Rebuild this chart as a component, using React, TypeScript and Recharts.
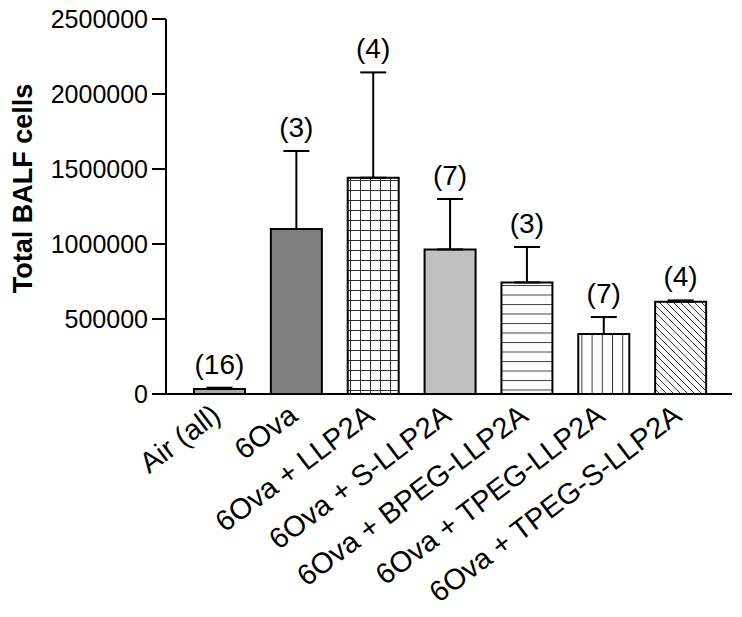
import { ComposedChart, Bar, Cell, ErrorBar, Line, LabelList, XAxis, YAxis } from "recharts";

const groups = [
  "Air (all)",
  "6Ova",
  "6Ova + LLP2A",
  "6Ova + S-LLP2A",
  "6Ova + BPEG-LLP2A",
  "6Ova + TPEG-LLP2A",
  "6Ova + TPEG-S-LLP2A",
];
const meanCells = [33000, 1100000, 1442000, 964000, 744000, 400000, 615000];
const semCells = [9000, 520000, 702000, 336000, 236000, 113000, 9000];
const nPerGroup = [16, 3, 4, 7, 3, 7, 4];
const yTicks = [0, 500000, 1000000, 1500000, 2000000, 2500000];

const fills = ["#a9a9a9", "#7f7f7f", "url(#grid)", "#c0c0c0", "url(#hlines)", "url(#vlines)", "url(#diag)"];

const rows = groups.map((g, i) => ({
  name: g,
  mean: meanCells[i],
  err: [0, semCells[i]],
  top: meanCells[i] + semCells[i],
  n: `(${nPerGroup[i]})`,
}));

const font = "'Liberation Sans', Arial, sans-serif";

function XTick({ x, y, payload }: any) {
  const px = x + 3;
  return (
    <text x={px} y={y} textAnchor="end" fontSize={29} fontFamily={font} fill="#000"
      transform={`rotate(-37, ${px}, ${y})`}>
      {payload.value}
    </text>
  );
}

function YTitle({ viewBox }: any) {
  const cx = viewBox.x + 23;
  const cy = viewBox.y + viewBox.height / 2 - 18;
  return (
    <text x={cx} y={cy} textAnchor="middle" dominantBaseline="central" fontSize={27} fontWeight="bold"
      fontFamily={font} fill="#000" transform={`rotate(-90, ${cx}, ${cy})`}>
      Total BALF cells
    </text>
  );
}

export default function App() {
  return (
    <div style={{ position: "absolute", left: 0, top: 0, background: "#fff" }}>
      <ComposedChart width={742} height={617} data={rows} margin={{ top: 19, right: 10, left: 0, bottom: 0 }}>
        <defs>
          <pattern id="grid" width="10" height="10" patternUnits="userSpaceOnUse">
            <rect width="10" height="10" fill="#fff" />
            <path d="M0 0.5H10M0.5 0V10" stroke="#333" strokeWidth="1" />
          </pattern>
          <pattern id="hlines" width="10" height="9.5" patternUnits="userSpaceOnUse">
            <rect width="10" height="9.5" fill="#fff" />
            <path d="M0 0.5H10" stroke="#444" strokeWidth="1" />
          </pattern>
          <pattern id="vlines" width="10.2" height="10" patternUnits="userSpaceOnUse">
            <rect width="10.2" height="10" fill="#fff" />
            <path d="M0.5 0V10" stroke="#333" strokeWidth="1" />
          </pattern>
          <pattern id="diag" width="7" height="7" patternUnits="userSpaceOnUse">
            <rect width="7" height="7" fill="#fff" />
            <path d="M-1 -1L8 8M-8 -1L1 8M6 -1L15 8" stroke="#333" strokeWidth="1" />
          </pattern>
        </defs>
        <XAxis
          dataKey="name"
          interval={0}
          height={223}
          padding={{ left: 15, right: 13 }}
          tickLine={false}
          tickSize={0}
          tickMargin={25}
          axisLine={{ stroke: "#000", strokeWidth: 2 }}
          tick={<XTick />}
        />
        <YAxis
          width={166}
          domain={[0, 2500000]}
          ticks={yTicks}
          interval={0}
          tickSize={14}
          tickMargin={4}
          axisLine={{ stroke: "#000", strokeWidth: 2 }}
          tickLine={{ stroke: "#000", strokeWidth: 2 }}
          tick={{ fill: "#000", fontSize: 25, fontFamily: font }}
          label={<YTitle />}
        />
        <Bar dataKey="mean" barSize={51} stroke="#000" strokeWidth={2} isAnimationActive={false}>
          {rows.map((r, i) => (
            <Cell key={r.name} fill={fills[i]} stroke="#000" strokeWidth={2} />
          ))}
          <ErrorBar dataKey="err" direction="y" width={13} stroke="#000" strokeWidth={2} />
        </Bar>
        <Line dataKey="top" stroke="none" dot={false} activeDot={false} legendType="none" isAnimationActive={false}>
          <LabelList dataKey="n" position="top" offset={14} fontSize={28} fontFamily={font} fill="#000" />
        </Line>
      </ComposedChart>
    </div>
  );
}
